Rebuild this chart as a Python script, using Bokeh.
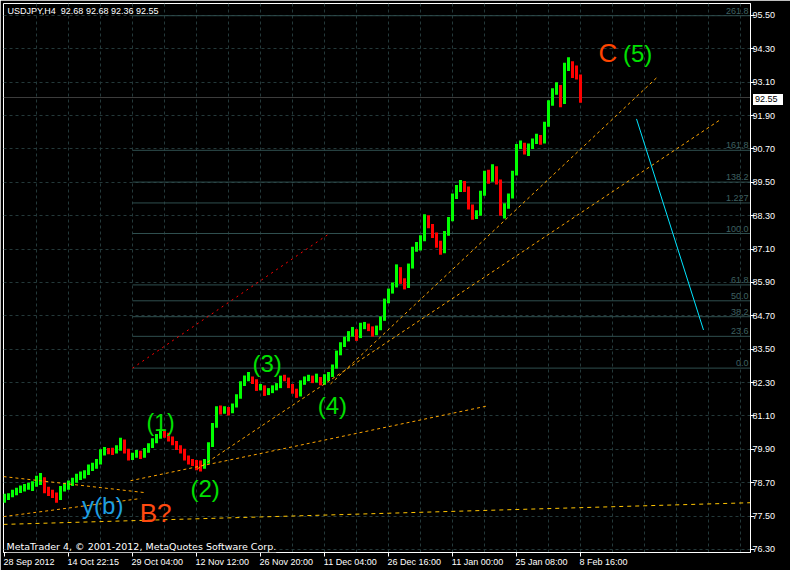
from bokeh.plotting import figure
from bokeh.models import ColumnDataSource, FixedTicker, Range1d, Label, NumeralTickFormatter, Div
from bokeh.layouts import column
from bokeh.embed import file_html
from bokeh.resources import INLINE

# ---------------- data (H4 bars, aggregated) ----------------
opens = [78.05,78.16,78.24,78.34,78.41,78.49,78.52,78.59,78.63,78.70,
         78.84,78.41,78.34,78.27,78.13,78.49,78.56,78.67,78.77,78.92,
         78.99,79.06,79.24,79.31,79.42,79.78,79.88,79.85,79.81,79.92,
         80.21,79.85,79.60,79.67,79.78,79.67,79.85,80.03,80.21,80.35,
         80.53,80.42,80.28,80.14,79.96,79.85,79.60,79.45,79.42,79.38,
         79.35,79.42,80.03,80.74,81.35,81.28,81.35,81.28,81.46,81.78,
         82.25,82.43,82.46,82.36,82.11,82.14,81.93,82.00,82.11,82.18,
         82.46,82.43,82.18,82.00,81.86,82.29,82.43,82.46,82.36,82.43,
         82.29,82.43,82.57,82.86,83.36,83.65,83.86,84.04,84.15,83.97,
         84.33,84.36,84.26,84.08,84.26,84.58,85.22,85.58,85.80,86.37,
         85.94,85.76,86.48,87.09,87.20,87.45,88.20,87.92,87.63,87.30,
         87.02,87.66,88.16,88.99,89.27,89.45,89.27,88.63,88.27,88.38,
         89.10,89.81,89.60,89.99,89.53,88.45,88.63,88.99,89.81,90.78,
         90.85,90.67,90.78,90.96,91.14,90.96,91.57,92.32,92.75,92.93,
         92.39,93.65,93.72,93.40,93.29]
highs = [78.30,78.32,78.45,78.52,78.60,78.65,78.70,78.75,78.95,79.05,
         78.90,78.55,78.45,78.35,78.58,78.68,78.78,78.88,79.02,79.10,
         79.15,79.35,79.42,79.55,79.90,79.98,79.95,79.96,80.05,80.32,
         80.25,79.92,79.78,79.88,79.85,79.95,80.12,80.30,80.45,80.62,
         80.60,80.50,80.36,80.20,80.05,79.92,79.68,79.55,79.52,79.50,
         79.55,80.15,80.85,81.45,81.48,81.45,81.42,81.55,81.88,82.35,
         82.55,82.68,82.52,82.42,82.25,82.20,82.10,82.20,82.28,82.55,
         82.58,82.48,82.25,82.08,82.38,82.52,82.58,82.55,82.62,82.50,
         82.60,82.68,82.95,83.45,83.75,83.95,84.15,84.30,84.22,84.45,
         84.48,84.42,84.32,84.35,84.68,85.32,85.68,85.90,86.55,86.45,
         86.05,86.58,87.18,87.35,87.60,88.35,88.32,88.00,87.70,87.40,
         87.75,88.25,89.10,89.40,89.58,89.55,89.35,88.70,88.50,89.20,
         89.92,89.95,90.15,90.08,89.60,88.75,89.10,89.92,90.88,91.00,
         90.92,90.90,91.08,91.25,91.20,91.68,92.45,92.88,93.10,93.00,
         93.80,94.00,93.85,93.70,93.38]
lows = [77.98,78.08,78.18,78.25,78.33,78.38,78.45,78.40,78.55,78.62,
        78.32,78.22,78.15,77.98,78.08,78.38,78.45,78.58,78.70,78.80,
        78.85,78.98,79.12,79.20,79.35,79.68,79.72,79.70,79.75,79.85,
        79.75,79.50,79.52,79.60,79.55,79.60,79.78,79.95,80.12,80.28,
        80.32,80.18,80.05,79.88,79.75,79.50,79.35,79.30,79.15,79.10,
        79.20,79.38,79.98,80.68,81.15,81.18,81.12,81.20,81.40,81.72,
        82.18,82.35,82.25,82.00,82.02,81.82,81.85,81.92,82.02,82.10,
        82.35,82.10,81.90,81.75,81.80,82.22,82.35,82.28,82.30,82.20,
        82.22,82.36,82.50,82.80,83.28,83.58,83.78,83.95,83.80,83.90,
        84.22,84.15,83.95,84.00,84.18,84.52,85.15,85.50,85.72,85.85,
        85.65,85.70,86.40,87.00,87.05,87.38,87.85,87.50,87.15,86.90,
        86.95,87.58,88.10,88.90,89.15,89.15,88.52,88.15,88.18,88.30,
        89.02,89.45,89.52,89.42,88.30,88.20,88.55,88.92,89.75,90.70,
        90.50,90.45,90.70,90.88,90.85,90.90,91.50,92.25,92.65,92.20,
        92.32,93.50,93.25,93.20,92.36]
closes = [78.16,78.24,78.34,78.41,78.49,78.52,78.59,78.63,78.70,78.84,
          78.41,78.34,78.27,78.13,78.49,78.56,78.67,78.77,78.92,78.99,
          79.06,79.24,79.31,79.42,79.78,79.88,79.85,79.81,79.92,80.21,
          79.85,79.60,79.67,79.78,79.67,79.85,80.03,80.21,80.35,80.53,
          80.42,80.28,80.14,79.96,79.85,79.60,79.45,79.42,79.38,79.35,
          79.42,80.03,80.74,81.35,81.28,81.35,81.28,81.46,81.78,82.25,
          82.43,82.46,82.36,82.11,82.14,81.93,82.00,82.11,82.18,82.46,
          82.43,82.18,82.00,81.86,82.29,82.43,82.46,82.36,82.43,82.29,
          82.43,82.57,82.86,83.36,83.65,83.86,84.04,84.15,83.97,84.33,
          84.36,84.26,84.08,84.26,84.58,85.22,85.58,85.80,86.37,85.94,
          85.76,86.48,87.09,87.20,87.45,88.20,87.92,87.63,87.30,87.02,
          87.66,88.16,88.99,89.27,89.45,89.27,88.63,88.27,88.38,89.10,
          89.81,89.60,89.99,89.53,88.45,88.63,88.99,89.81,90.78,90.85,
          90.67,90.78,90.96,91.14,90.96,91.57,92.32,92.75,92.93,92.39,
          93.65,93.72,93.40,93.29,92.55]

x_tick_idx = [0, 16, 32, 48, 64, 80, 96, 112, 128, 144]
x_tick_labels = ["28 Sep 2012", "14 Oct 22:15", "29 Oct 04:00", "12 Nov 12:00",
                 "26 Nov 20:00", "11 Dec 04:00", "26 Dec 16:00", "11 Jan 00:00",
                 "25 Jan 08:00", "8 Feb 16:00"]
x_grid_idx = list(range(8, 187, 8))
price_ticks = [76.30, 77.50, 78.70, 79.90, 81.10, 82.30, 83.50, 84.70, 85.90,
               87.10, 88.30, 89.50, 90.70, 91.90, 93.10, 94.30, 95.50]

# Fibonacci object
fib_labels = ["0.0", "23.6", "38.2", "50.0", "61.8", "100.0", "1.227", "138.2", "161.8", "261.8"]
fib_ratios = [0.0, 0.236, 0.382, 0.5, 0.618, 1.0, 1.227, 1.382, 1.618, 2.618]
fib_low, fib_high = 82.82, 87.66
fib_start_idx, fib_end_idx = 32, 81.25

bid_price = 92.55
header_text = "USDJPY,H4\u00a0 92.68 92.68 92.36 92.55"

# trend lines: (x0, y0, x1, y1) in bar index / price
orange_lines_x0 = [-0.25, -0.25, 31.5, 48.25, 81.5]
orange_lines_y0 = [78.92, 77.48, 78.77, 79.20, 82.25]
orange_lines_x1 = [35.25, 34.0, 120.75, 179.25, 163.25]
orange_lines_y1 = [78.34, 78.13, 81.46, 91.78, 93.29]
gold_line = [-0.25, 77.20, 186.5, 77.98]
cyan_line = [158.0, 91.78, 174.75, 84.19]

# ---------------- figure ----------------
W, H = 790, 570
PX_PER_BAR = 4.0
p = figure(width=W, height=H, x_range=Range1d(-0.25, 186.5), y_range=Range1d(76.19, 95.93),
           y_axis_location="right", output_backend="svg", toolbar_location=None,
           background_fill_color="black", border_fill_color="black",
           min_border_left=3, min_border_top=3, min_border_right=40, min_border_bottom=18)
p.outline_line_color = "white"
p.outline_line_width = 1

GRID = "#24393A"
p.xgrid.ticker = FixedTicker(ticks=x_grid_idx)
p.ygrid.ticker = FixedTicker(ticks=price_ticks)
for g in (p.xgrid, p.ygrid):
    g.grid_line_color = GRID
    g.grid_line_dash = "3 3"
    g.grid_line_width = 1

ya = p.yaxis[0]
ya.ticker = FixedTicker(ticks=price_ticks)
ya.formatter = NumeralTickFormatter(format="0.00")
ya.axis_line_color = "white"
ya.major_tick_line_color = "white"
ya.major_tick_out = 4
ya.major_tick_in = 0
ya.minor_tick_line_color = None
ya.major_label_text_color = "white"
ya.major_label_text_font = "Liberation Sans"
ya.major_label_text_font_size = "9px"
ya.major_label_standoff = -2

# x axis: labels start at their tick (MetaTrader style) -> label anchors shifted
# right by half of the label width; the real ticks are drawn as minor ticks.
char_w = {" ": 0.278, ":": 0.278, "S": 0.667, "e": 0.556, "p": 0.556, "O": 0.778,
          "c": 0.5, "t": 0.278, "N": 0.722, "o": 0.556, "v": 0.5, "D": 0.722,
          "J": 0.5, "a": 0.556, "n": 0.556, "F": 0.611, "b": 0.556}
XFONT = 9.0
def text_w(s):
    return sum(char_w.get(ch, 0.556) for ch in s) * XFONT
label_pos = [t + text_w(s) / 2.0 / PX_PER_BAR - 0.25 for t, s in zip(x_tick_idx, x_tick_labels)]

xa = p.xaxis[0]
xa.ticker = FixedTicker(ticks=label_pos, minor_ticks=x_tick_idx)
xa.major_label_overrides = {lp: lab for lp, lab in zip(label_pos, x_tick_labels)}
xa.axis_line_color = "white"
xa.major_tick_line_color = None
xa.major_tick_out = 4
xa.major_tick_in = 0
xa.minor_tick_line_color = "white"
xa.minor_tick_out = 4
xa.minor_tick_in = 0
xa.major_label_text_color = "white"
xa.major_label_text_font = "Liberation Sans"
xa.major_label_text_font_size = "9px"
xa.major_label_standoff = 0

# fib horizontal lines
fib_prices = [fib_low + r * (fib_high - fib_low) for r in fib_ratios]
FIB = "#2F4F4F"
p.segment(x0=[fib_start_idx] * len(fib_prices), y0=fib_prices,
          x1=[186.5] * len(fib_prices), y1=fib_prices, line_color=FIB, line_width=1)
for lab, pr in zip(fib_labels, fib_prices):
    p.add_layout(Label(x=186.0, y=pr, text=lab, text_align="right", text_baseline="bottom",
                       y_offset=2, text_color="#3F6060", text_font="Liberation Sans",
                       text_font_size="9px"))

# bid line
p.segment(x0=[-0.25], y0=[bid_price], x1=[186.5], y1=[bid_price], line_color="#3C3C3C", line_width=1)

# candles
idx = list(range(len(closes)))
colors = ["#00FF00" if c >= o else "#FF0000" for o, c in zip(opens, closes)]
src = ColumnDataSource(dict(x=idx, o=opens, h=highs, l=lows, c=closes, color=colors))
p.segment(x0="x", y0="l", x1="x", y1="h", line_color="color", line_width=3, source=src)

# red fib base line
p.line([fib_start_idx, fib_end_idx], [fib_low, fib_high], line_color="#FF0000",
       line_dash="2 4", line_width=1)

# orange trend lines
p.segment(x0=orange_lines_x0, y0=orange_lines_y0, x1=orange_lines_x1, y1=orange_lines_y1,
          line_color="#FFA500", line_dash="3 3", line_width=1)
p.line([gold_line[0], gold_line[2]], [gold_line[1], gold_line[3]], line_color="#FFC400",
       line_dash="4 4", line_width=1)
# cyan line
p.line([cyan_line[0], cyan_line[2]], [cyan_line[1], cyan_line[3]], line_color="#00E5FF", line_width=1)

# wave labels
def wave(text, x, y, color, size):
    p.add_layout(Label(x=x, y=y, text=text, text_align="left", text_baseline="alphabetic",
                       text_color=color, text_font="Liberation Sans", text_font_size=size))

GREEN = "#00E000"
wave("(1)", 35.5, 80.83, GREEN, "23px")
wave("(2)", 46.5, 78.49, GREEN, "24px")
wave("(3)", 62.0, 82.99, GREEN, "24px")
wave("(4)", 78.3, 81.48, GREEN, "24px")
wave("C", 148.5, 94.16, "#FF4500", "26px")
wave("(5)", 154.6, 94.14, GREEN, "24px")
wave("y(b)", 19.4, 77.88, "#1E9FE0", "24px")
wave("B?", 33.8, 77.61, "#FF4A10", "26px")

# header & copyright
p.add_layout(Label(x=0.75, y=95.67, text=header_text, text_align="left", text_baseline="alphabetic",
                   text_color="white", text_font="Liberation Sans", text_font_size="9px"))
p.add_layout(Label(x=0.5, y=76.39, text="MetaTrader 4, \u00a9 2001-2012, MetaQuotes Software Corp.",
                   text_align="left", text_baseline="alphabetic", text_color="white",
                   background_fill_color="black", text_font="DejaVu Sans", text_font_size="9.5px"))

# bid price box on the price scale (HTML overlay, outside the plot frame)
bid_box = Div(text=f"{bid_price:.2f}", width=30, height=11,
              styles={"position": "absolute", "left": "748px", "top": "89px",
                      "background-color": "white", "color": "black",
                      "font-family": "Liberation Sans", "font-size": "9px",
                      "line-height": "11px", "padding": "0px 2px"})

root = column(p, bid_box)
open("out.html", "w").write(file_html(root, INLINE))
